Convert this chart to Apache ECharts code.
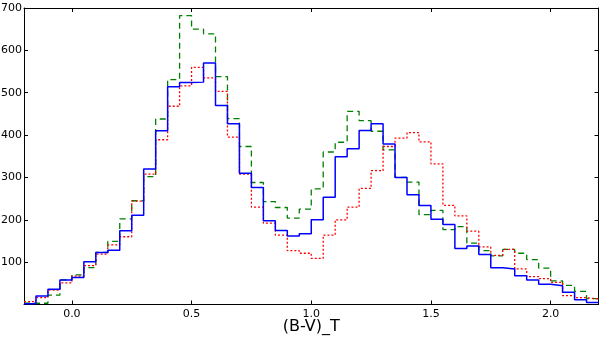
<!DOCTYPE html>
<html><head><meta charset="utf-8">
<script src="https://cdn.jsdelivr.net/npm/echarts@6/dist/echarts.min.js"></script>
<style>html,body{margin:0;padding:0;background:#fff}#c{width:600px;height:337px}</style>
</head><body><div id="c"></div>
<script>
const binStart = -0.2;
const binWidth = 0.05;
const xTicks = [0.0, 0.5, 1.0, 1.5, 2.0];
const yTicks = [100, 200, 300, 400, 500, 600, 700];

const blueCounts = [2, 20, 36, 58, 64, 101, 123, 128, 174, 211, 320, 410, 514, 524, 525, 570,
  470, 427, 310, 276, 198, 175, 162, 167, 200, 253, 349, 368, 411, 427, 379, 300,
  259, 234, 201, 189, 132, 138, 118, 87, 84, 68, 58, 48, 44, 29, 11, 5];
const greenCounts = [3, 3, 22, 58, 70, 87, 123, 149, 202, 245, 302, 438, 531, 682, 650, 639,
  538, 439, 373, 288, 243, 229, 204, 225, 273, 360, 383, 456, 434, 409, 365, 300,
  289, 212, 222, 177, 184, 145, 127, 115, 130, 121, 106, 86, 56, 45, 31, 14];
const redCounts = [7, 16, 34, 51, 67, 92, 119, 141, 160, 244, 308, 389, 468, 516, 560, 535,
  503, 395, 308, 230, 192, 164, 127, 121, 109, 164, 200, 230, 274, 316, 373, 393,
  406, 384, 332, 234, 209, 173, 136, 116, 130, 84, 66, 61, 52, 21, 16, 13];

function stepData(counts) {
  const d = [];
  for (let i = 0; i < counts.length; i++) d.push([+(binStart + i * binWidth).toFixed(4), counts[i]]);
  d.push([+(binStart + counts.length * binWidth).toFixed(4), counts[counts.length - 1]]);
  return d;
}

const font = 'DejaVu Sans';
const axisLine = {show: true, onZero: false, lineStyle: {color: '#000', width: 1}};
const chart = echarts.init(document.getElementById('c'), null, {renderer: 'canvas'});
chart.setOption({
  animation: false,
  backgroundColor: '#fff',
  grid: {left: 24, right: 1.5, top: 8, bottom: 32.5, containLabel: false, outerBoundsMode: 'none'},
  xAxis: [{
    type: 'value', min: -0.2, max: 2.2, position: 'bottom',
    axisLine: axisLine,
    axisTick: {show: true, inside: true, length: 4, customValues: xTicks, lineStyle: {color: '#000'}},
    axisLabel: {customValues: xTicks, formatter: v => v.toFixed(1), color: '#000', fontSize: 11, fontFamily: font, margin: 4},
    splitLine: {show: false},
    name: '(B-V)_T', nameLocation: 'middle', nameGap: 14, nameMoveOverlap: false,
    nameTextStyle: {color: '#000', fontSize: 16, fontFamily: font}
  }, {
    type: 'value', min: -0.2, max: 2.2, position: 'top',
    axisLine: axisLine,
    axisTick: {show: true, inside: true, length: 4, customValues: xTicks, lineStyle: {color: '#000'}},
    axisLabel: {show: false},
    splitLine: {show: false}
  }],
  yAxis: [{
    type: 'value', min: 0, max: 700, interval: 100, position: 'left',
    axisLine: axisLine,
    axisTick: {show: true, inside: true, length: 4, lineStyle: {color: '#000'}},
    axisLabel: {formatter: v => (yTicks.indexOf(v) >= 0 ? String(v) : ''), color: '#000', fontSize: 11, fontFamily: font, margin: 2},
    splitLine: {show: false}
  }, {
    type: 'value', min: 0, max: 700, interval: 100, position: 'right',
    axisLine: axisLine,
    axisTick: {show: true, inside: true, length: 4, lineStyle: {color: '#000'}},
    axisLabel: {show: false},
    splitLine: {show: false}
  }],
  series: [
    {type: 'line', step: 'end', data: stepData(greenCounts), showSymbol: false, symbol: 'none',
      lineStyle: {color: '#008000', width: 1.3, type: [6, 4]}, z: 2},
    {type: 'line', step: 'end', data: stepData(redCounts), showSymbol: false, symbol: 'none',
      lineStyle: {color: '#ff0000', width: 1.3, type: [2, 2]}, z: 3},
    {type: 'line', step: 'end', data: stepData(blueCounts), showSymbol: false, symbol: 'none',
      lineStyle: {color: '#0000ff', width: 1.5}, z: 4}
  ]
});
</script>
</body></html>
